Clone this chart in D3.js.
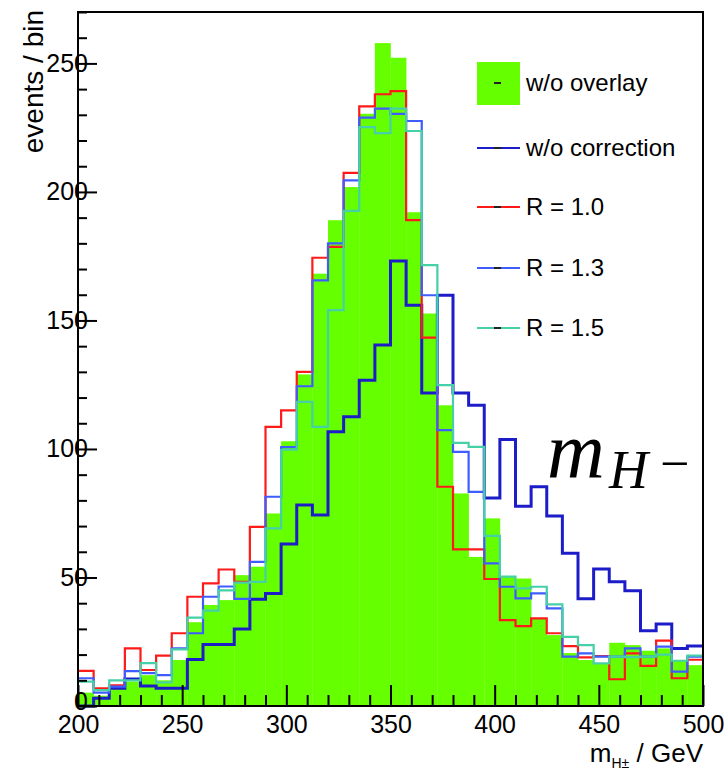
<!DOCTYPE html>
<html>
<head>
<meta charset="utf-8">
<script src="https://cdn.jsdelivr.net/npm/d3@7"></script>
<style>
  body { margin: 0; background: #fff; }
  text { font-family: "Liberation Sans", Arial, sans-serif; fill: #000; }
</style>
</head>
<body>
<div id="chart"></div>
<script>
// histogram definition: 40 bins of 7.5 GeV from 200 to 500
var binLow = 200, binWidth = 7.5, nBins = 40;

// events / bin
var woOverlay = [5.2, 4, 7.5, 9.5, 12, 10, 17.9, 32.6, 39.3, 41.2,
                 50.9, 54.2, 74.9, 103, 129, 168.2, 189, 201.9, 230.4, 257.9,
                 252.2, 192.1, 152.7, 117, 82.7, 58, 73, 50.5, 49.6, 34.1,
                 27.6, 20.6, 17.9, 16.6, 24.6, 23.7, 21.5, 22.4, 17.9, 15.9];
var woCorrection = [0, 3, 6.9, 10.5, 7.8, 6.9, 6.9, 18.1, 23.9, 23.9,
                    30, 41.5, 43.8, 63, 78.2, 74.3, 106.7, 112.5, 126.7, 140.4,
                    173.1, 155.9, 121.8, 159.8, 121.8, 117, 80.9, 103.7, 77.7, 85.3,
                    73.9, 59.4, 41.7, 53.3, 48.3, 44.8, 29.3, 31.9, 22.4, 23.3];
var r10 = [13.7, 6.9, 8, 22.4, 14, 19.6, 28.3, 42.5, 47.7, 53.1,
           48.3, 69.7, 108.6, 115, 130, 174.4, 178.6, 207.4, 233.3, 238,
           239.2, 189, 143.3, 85.3, 60.9, 60.9, 49.4, 33.4, 31.1, 34.1,
           28.3, 23.3, 18.9, 19.4, 10.4, 20.5, 15.6, 25.4, 10.8, 18];
var r13 = [10.8, 5.2, 7.5, 13.6, 12.8, 12, 22.4, 28.3, 42.5, 46.5,
           41.7, 56.1, 81.4, 100.7, 124.4, 165.6, 180, 204.5, 228.9, 232.4,
           230.4, 227.6, 159.8, 107.3, 98.9, 83.3, 55.5, 46.4, 41.9, 43.8,
           38, 19.2, 20.5, 19.2, 19.2, 22.4, 19.2, 23.1, 13.4, 19.2];
var r15 = [9.5, 6.2, 10, 10, 16.7, 9.2, 22, 34.4, 37.1, 45,
           48, 48.3, 69.1, 99.7, 118.3, 108.6, 154, 192.6, 225.2, 222.9,
           232.4, 223.7, 171.5, 124.8, 102.4, 100.8, 66.2, 50.3, 45.8, 46.4,
           39.5, 26.9, 23.7, 16.6, 19.2, 19, 19.2, 20, 17.6, 19.6];

var xMajor = [200, 250, 300, 350, 400, 450, 500];
var yMajor = [0, 50, 100, 150, 200, 250];

var lineSeries = [
  {name: "w/o correction", values: woCorrection, color: "#1c1cc8", width: 3},
  {name: "R = 1.0", values: r10, color: "#ff1a1a", width: 2.2},
  {name: "R = 1.3", values: r13, color: "#3f5cff", width: 2.2},
  {name: "R = 1.5", values: r15, color: "#45d0a8", width: 2.2}
];
var greenColor = "#66ff00";

var W = 726, H = 770;
var margin = {top: 12, right: 23, bottom: 64, left: 78};

var svg = d3.select("#chart").append("svg")
    .attr("width", W)
    .attr("height", H);

var x = d3.scaleLinear().domain([200, 500]).range([margin.left, W - margin.right]);
var y = d3.scaleLinear().domain([0, 270]).range([H - margin.bottom, margin.top]);

var edges = d3.range(nBins + 1).map(function(i) { return binLow + i * binWidth; });

// filled histogram
svg.append("g").selectAll("rect")
    .data(woOverlay)
    .enter().append("rect")
      .attr("x", function(d, i) { return x(edges[i]); })
      .attr("width", function(d, i) { return x(edges[i + 1]) - x(edges[i]) + 0.3; })
      .attr("y", function(d) { return y(d); })
      .attr("height", function(d) { return y(0) - y(d); })
      .attr("fill", greenColor);

// outline histograms
var step = d3.line()
    .x(function(p) { return x(p[0]); })
    .y(function(p) { return y(p[1]); })
    .curve(d3.curveStepAfter);

lineSeries.forEach(function(s) {
  var pts = s.values.map(function(v, i) { return [edges[i], v]; });
  pts.push([edges[nBins], s.values[nBins - 1]]);
  svg.append("path")
      .datum(pts)
      .attr("d", step)
      .attr("fill", "none")
      .attr("stroke", s.color)
      .attr("stroke-width", s.width);
});

// axes, ticks pointing inwards
var minorX = d3.range(200, 501, 10).filter(function(v) { return v % 50 != 0; });
var minorY = d3.range(0, 271, 10).filter(function(v) { return v % 50 != 0; });

var gx = svg.append("g").attr("transform", "translate(0," + y(0) + ")");
gx.call(d3.axisBottom(x).tickValues(xMajor).tickSize(-21).tickPadding(9).tickFormat(d3.format("d")));
gx.append("g").call(d3.axisBottom(x).tickValues(minorX).tickSize(-11).tickFormat(""));

var gy = svg.append("g").attr("transform", "translate(" + x(200) + ",0)");
gy.call(d3.axisLeft(y).tickValues(yMajor).tickSize(-19).tickPadding(-10).tickFormat(d3.format("d")));
gy.append("g").call(d3.axisLeft(y).tickValues(minorY).tickSize(-9).tickFormat(""));
// the 0 label sits a little above the corner
gy.selectAll(".tick text").filter(function(d) { return d === 0; }).attr("dy", "0.12em");

svg.selectAll(".domain").remove();
svg.selectAll(".tick line").attr("stroke", "#000").attr("stroke-width", 2);
svg.selectAll(".tick text").style("font-size", "25px").style("font-family", "'Liberation Sans', Arial, sans-serif");

// frame
svg.append("rect")
    .attr("x", x(200))
    .attr("y", y(270))
    .attr("width", x(500) - x(200))
    .attr("height", y(0) - y(270))
    .attr("fill", "none")
    .attr("stroke", "#000")
    .attr("stroke-width", 2);

// axis titles
svg.append("text")
    .attr("transform", "translate(43,10) rotate(-90)")
    .attr("text-anchor", "end")
    .style("font-size", "28px")
    .text("events / bin");

var xt = svg.append("text")
    .attr("x", x(500))
    .attr("y", 762)
    .attr("text-anchor", "end")
    .style("font-size", "26px");
xt.append("tspan").text("m");
xt.append("tspan").attr("dy", 6).style("font-size", "14px").text("H±");
xt.append("tspan").attr("dy", -6).text(" / GeV");

// legend
var legendY = [83, 148, 207, 268, 328];
var lg = svg.append("g");
lg.append("rect")
    .attr("x", 477).attr("y", legendY[0] - 21)
    .attr("width", 43).attr("height", 43)
    .attr("fill", greenColor);
lg.append("line")
    .attr("x1", 494).attr("x2", 501)
    .attr("y1", legendY[0]).attr("y2", legendY[0])
    .attr("stroke", "#222").attr("stroke-width", 2);
lg.append("text")
    .attr("x", 526).attr("y", legendY[0])
    .attr("dy", "0.35em")
    .style("font-size", "24px")
    .text("w/o overlay");

lineSeries.forEach(function(s, i) {
  var ly = legendY[i + 1];
  lg.append("line")
      .attr("x1", 477).attr("x2", 520)
      .attr("y1", ly).attr("y2", ly)
      .attr("stroke", s.color).attr("stroke-width", 2);
  lg.append("line")
      .attr("x1", 494).attr("x2", 501)
      .attr("y1", ly).attr("y2", ly)
      .attr("stroke", "#222").attr("stroke-width", 2);
  lg.append("text")
      .attr("x", 526).attr("y", ly)
      .attr("dy", "0.35em")
      .style("font-size", "24px")
      .text(s.name);
});

// m_{H^-} label
var serif = "'Liberation Serif', 'DejaVu Serif', serif";
svg.append("text")
    .attr("x", 547).attr("y", 477)
    .style("font-family", serif).style("font-style", "italic")
    .style("font-size", "80px")
    .text("m");
svg.append("text")
    .attr("x", 609).attr("y", 488)
    .style("font-family", serif).style("font-style", "italic")
    .style("font-size", "54px")
    .text("H");
svg.append("text")
    .attr("x", 660).attr("y", 481)
    .style("font-family", serif)
    .style("font-size", "52px")
    .text("\u2212");
</script>
</body>
</html>
